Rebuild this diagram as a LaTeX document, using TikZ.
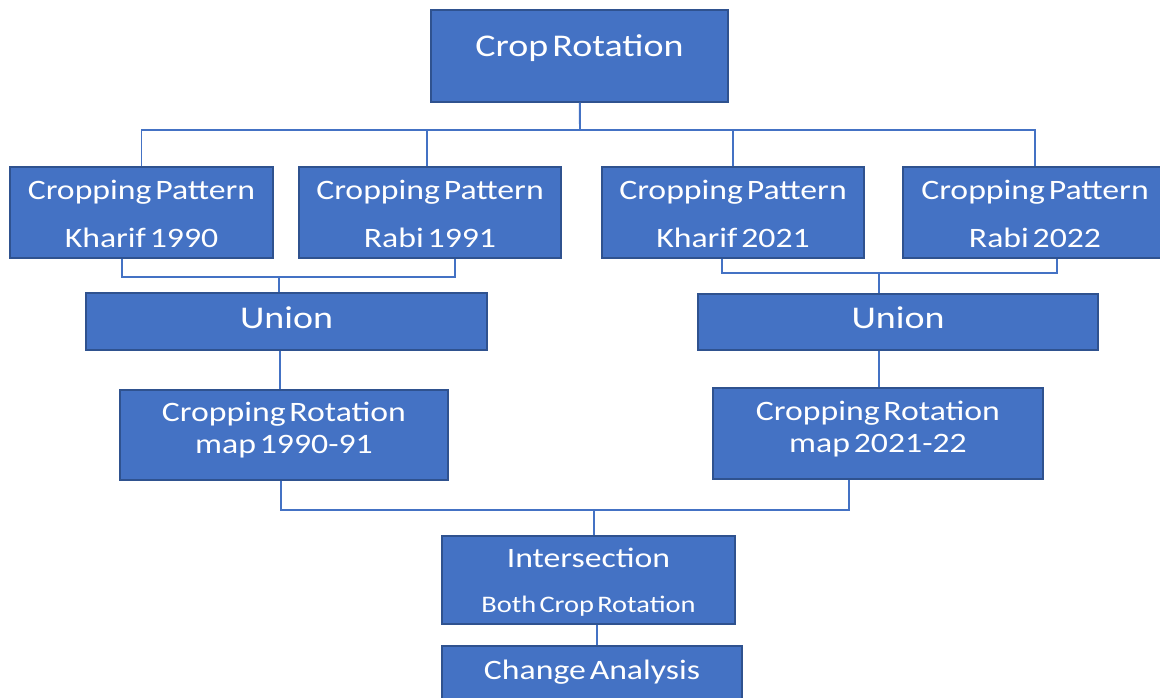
\documentclass[tikz,border=0pt]{standalone}
\usepackage{fontspec}
\setmainfont{Carlito}[FakeStretch=1.2, WordSpace=0.5]
\definecolor{boxblue}{HTML}{4472C4}
\definecolor{boxedge}{HTML}{2F528F}
\begin{document}
\begin{tikzpicture}
[ x=0.02cm, y=-0.02cm
, box/.style={rectangle, fill=boxblue, draw=boxedge, line width=0.8pt, text=white, inner sep=0pt, align=center, font=\fontsize{16}{27}\selectfont}
, oneline/.style={text height=0.3cm, text depth=#1}
, big/.style={font=\fontsize{18}{20}\selectfont}
, link/.style={draw=boxblue, line width=1.1pt}
, point/.style={coordinate}
]
\useasboundingbox (0,0) rectangle (1160,697);
\clip (0,0) rectangle (1160,697);
% Top:
\node (top) [box, big, oneline=0.3cm, minimum width=5.94cm, minimum height=1.84cm] at (579.5,56) {Crop Rotation};
% Patterns:
\node (k90) [box, minimum width=5.26cm, minimum height=1.82cm] at (141.5,212.5) {\rule{0pt}{12.5pt}Cropping Pattern\\Kharif 1990};
\node (r91) [box, minimum width=5.24cm, minimum height=1.82cm] at (430,212.5) {\rule{0pt}{12.5pt}Cropping Pattern\\Rabi 1991};
\node (k21) [box, minimum width=5.24cm, minimum height=1.82cm] at (733,212.5) {\rule{0pt}{12.5pt}Cropping Pattern\\Kharif 2021};
\node (r22) [box, minimum width=5.28cm, minimum height=1.82cm] at (1035,212.5) {\rule{0pt}{12.5pt}Cropping Pattern\\Rabi 2022};
% Unions:
\node (u1) [box, big, oneline=0.04cm, minimum width=8.02cm, minimum height=1.14cm] at (286.5,321.5) {Union};
\node (u2) [box, big, oneline=0.04cm, minimum width=8cm, minimum height=1.12cm] at (898,322) {Union};
% Maps:
\node (m1) [box, font=\fontsize{16}{18.2}\selectfont, minimum width=6.56cm, minimum height=1.8cm] at (284,435) {Cropping Rotation\\map 1990-91\rule[-8pt]{0pt}{8pt}};
\node (m2) [box, font=\fontsize{16}{18.2}\selectfont, minimum width=6.6cm, minimum height=1.82cm] at (878,433.5) {Cropping Rotation\\map 2021-22\rule[-8pt]{0pt}{8pt}};
% Bottom:
\node (inter) [box, font=\fontsize{16}{25.5}\selectfont, minimum width=5.86cm, minimum height=1.76cm] at (588.5,580) {\rule{0pt}{14pt}Intersection\\{\fontsize{13.5}{25.5}\selectfont Both Crop Rotation}};
\node (change) [box, text height=0.38cm, text depth=0.25cm, minimum width=6cm, minimum height=1.2cm] at (592,676) {Change Analysis};
% Connectors:
\coordinate (bus) at (580,130);
\coordinate (j1) at (279,277);
\coordinate (j2) at (879,273);
\coordinate (j3) at (594,510);
\draw [link] (top) -- (bus);
\draw [link] (k90.north) |- (bus) -| (r22.north);
\draw [link] (r91.north -| 427,0) -- (bus -| 427,0);
\draw [link] (k21.north) -- (k21.north |- bus);
\draw [link] (k90.south -| 122,0) |- (j1) -| (r91.south -| 455,0);
\draw [link] (j1) -- (j1 |- u1.north);
\draw [link] (k21.south -| 722,0) |- (j2) -| (r22.south -| 1057,0);
\draw [link] (j2) -- (j2 |- u2.north);
\draw [link] (u1.south -| 280,0) -- (m1.north -| 280,0);
\draw [link] (u2.south -| 879,0) -- (m2.north -| 879,0);
\draw [link] (m1.south -| 281,0) |- (j3) -| (m2.south -| 849,0);
\draw [link] (j3) -- (j3 |- inter.north);
\draw [link] (inter.south -| 597,0) -- (change.north -| 597,0);
\end{tikzpicture}
\end{document}
